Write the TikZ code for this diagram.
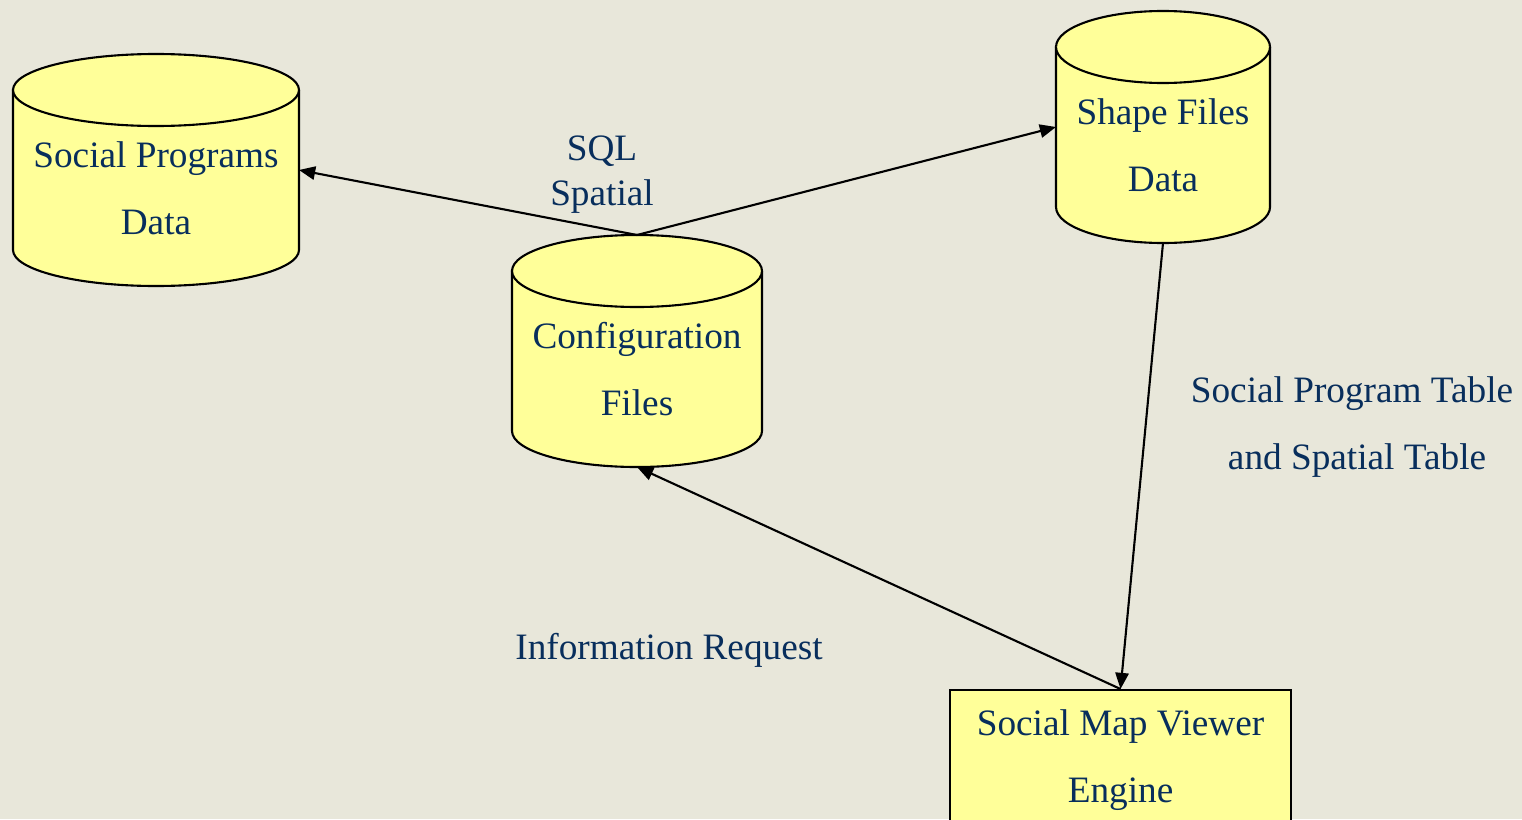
\documentclass[tikz,border=0pt]{standalone}
\usepackage{fontspec}
\setmainfont{Liberation Serif}
\usetikzlibrary{arrows.meta}

\definecolor{paper}{RGB}{232,231,218}
\definecolor{storefill}{RGB}{255,255,153}
\definecolor{inktext}{RGB}{8,46,92}

% #1 name, #2 centre x, #3 top y, #4 half width, #5 bottom y
\newcommand{\datastore}[5]{%
    \filldraw [store] (#2-#4, #3-0.36) -- (#2-#4, #5+0.36)
        arc [start angle=180, end angle=360, x radius=#4, y radius=0.36]
        -- (#2+#4, #3-0.36)
        arc [start angle=0, end angle=180, x radius=#4, y radius=0.36] -- cycle;
    \draw [store] (#2-#4, #3-0.36)
        arc [start angle=180, end angle=360, x radius=#4, y radius=0.36];
    \coordinate (#1-n) at (#2, #3);
    \coordinate (#1-s) at (#2, #5);
    \coordinate (#1-e) at (#2+#4, {(#3+#5)/2});
    \coordinate (#1-w) at (#2-#4, {(#3+#5)/2});
}

\begin{document}
\begin{tikzpicture}[
        store/.style={draw=black, line width=0.6pt, fill=storefill},
        txt/.style={text=inktext, align=center, inner sep=0pt,
            font=\fontsize{10.6}{19}\selectfont},
        flow/.style={draw=black, line width=0.6pt,
            -{Triangle[length=4.6pt, width=3.8pt]}}
    ]
        \clip (0, 0) rectangle (15.22, 8.19);
        \fill [paper] (0, 0) rectangle (15.22, 8.19);

        % data stores
        \datastore{prog}{1.56}{7.65}{1.43}{5.33}
        \datastore{shape}{11.63}{8.08}{1.07}{5.76}
        \datastore{cfg}{6.37}{5.84}{1.25}{3.52}

        \node (progtext) [txt] at (1.56, 6.31) {Social Programs\\Data};
        \node (shapetext) [txt] at (11.63, 6.74) {Shape Files\\Data};
        \node (cfgtext) [txt] at (6.37, 4.50) {Configuration\\Files};

        % viewer engine
        \node (engine) [store, txt, inner sep=0pt, anchor=north,
            minimum width=3.41cm, minimum height=1.4cm]
            at (11.205, 1.30) {Social Map Viewer\\Engine};

        % connectors
        \draw [flow] (cfg-n) -- (prog-e);
        \draw [flow] (cfg-n) -- (shape-w);
        \draw [flow] (shape-s) -- (engine.north);
        \draw [flow] (engine.north) -- (cfg-s);

        % labels
        \node (sqllabel) [txt, font=\fontsize{10.6}{12.8}\selectfont]
            at (6.02, 6.44) {SQL\\Spatial};
        \node (tablelabel) [txt] at (13.52, 3.92)
            {Social Program Table\\\hspace*{0.1cm}and Spatial Table};
        \node (requestlabel) [txt] at (6.69, 1.69) {Information Request};
    \end{tikzpicture}
\end{document}
